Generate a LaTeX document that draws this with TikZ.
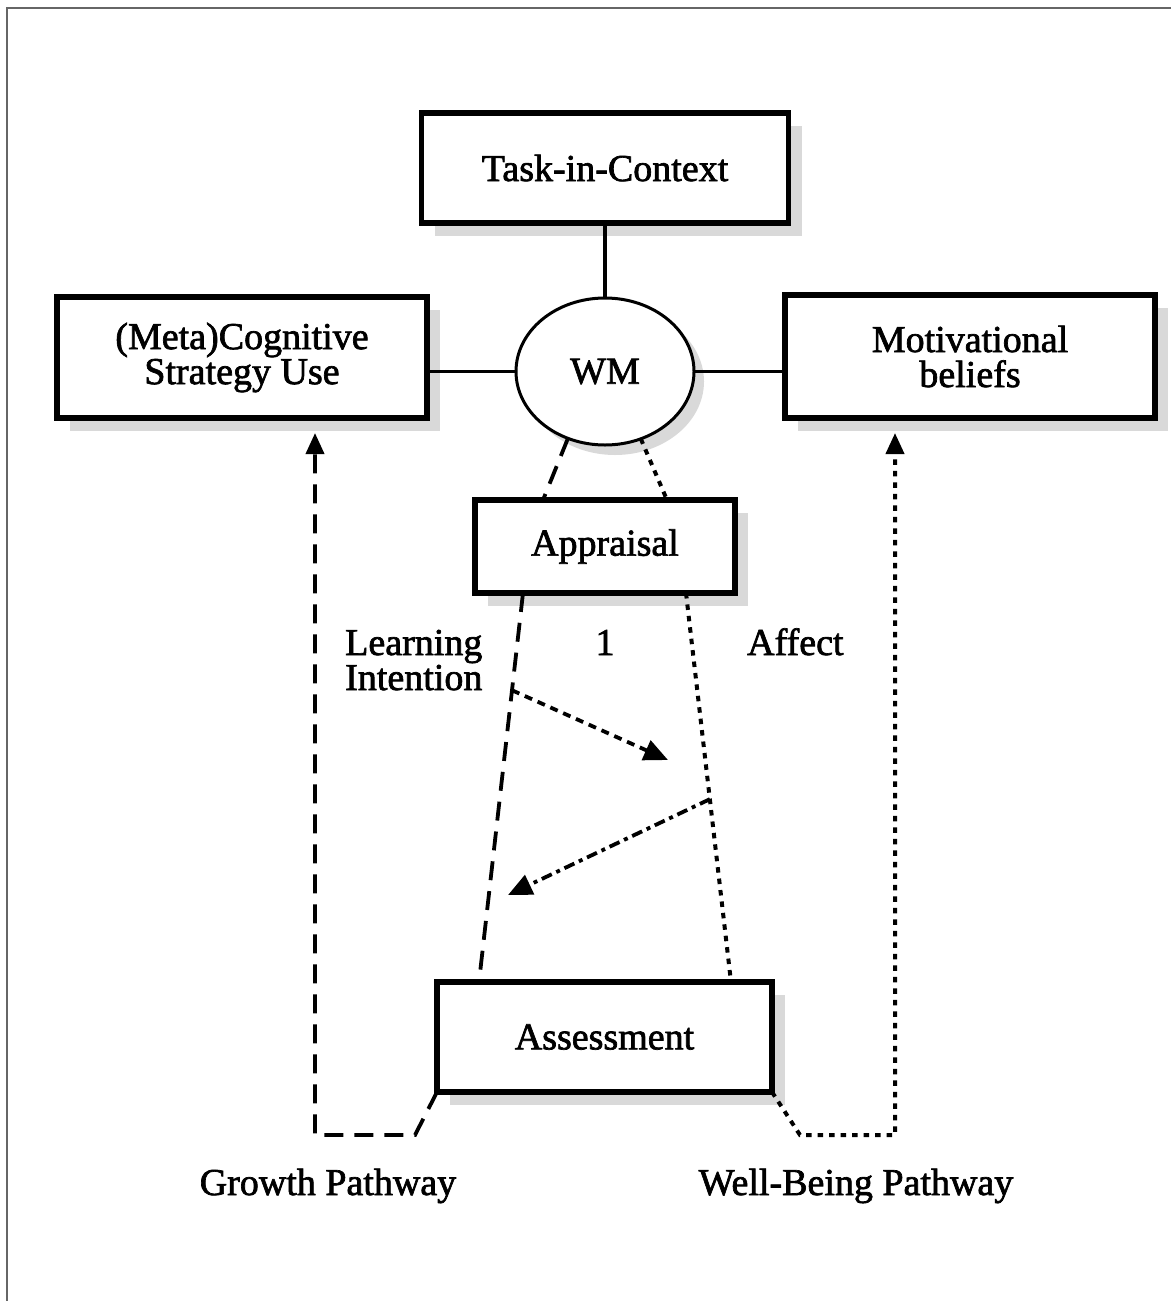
\documentclass[tikz,border=0pt]{standalone}
\usepackage{fontspec}
\newfontfamily\figfont{Liberation Serif}[BoldFont={Liberation Serif}, BoldFeatures={FakeBold=1.8}]
\usetikzlibrary{arrows.meta,shadows,calc,shapes.geometric}
\newcommand\lblfont{\figfont\bfseries\fontsize{38}{35}\selectfont}
\begin{document}
\begin{tikzpicture}[x=1pt,y=-1pt,
  boxshadow/.style={drop shadow={shadow xshift=13pt, shadow yshift=-13pt, fill=black!15, opacity=1}},
  box/.style={draw, line width=5.5pt, fill=white, inner sep=0pt, outer sep=0pt,
    font=\lblfont, align=center, boxshadow},
  wmnode/.style={ellipse, draw, line width=3pt, fill=white, inner sep=0pt, outer sep=0pt,
    font=\lblfont, drop shadow={shadow xshift=10pt, shadow yshift=-10pt, fill=black!15, opacity=1}},
  lbl/.style={font=\lblfont, inner sep=0pt},
  conn/.style={line width=3.8pt},
  dashline/.style={line width=3.8pt, dash pattern=on 19pt off 11pt},
  dotline/.style={line width=4pt, dash pattern=on 5.5pt off 6pt},
  tip/.style={-{Triangle[length=24pt,width=21pt]}},
]
\useasboundingbox (0,0) rectangle (1171,1301);
% frame
\draw[black!60, line width=2pt] (7,1301) -- (7,8) -- (1171,8);

% boxes
\node[box, minimum width=367pt, minimum height=110pt] (task) at (605,168) {Task-in-Context};
\node[box, minimum width=370pt, minimum height=121pt] (meta) at (242,357.5) {(Meta)Cognitive\\Strategy Use};
\node[box, minimum width=370pt, minimum height=123pt] (motiv) at (970,356.5) {Motivational\\beliefs};
\node[wmnode, minimum width=178pt, minimum height=147pt] (wm) at (605,371.5) {WM};
\node[box, minimum width=260pt, minimum height=93pt] (appr) at (605,546.5) {Appraisal};
\node[box, minimum width=335pt, minimum height=110pt] (assess) at (604.5,1037) {Assessment};

% solid links to working memory
\draw[conn] (task.south) -- (wm.north);
\draw[conn] (wm.west) -- (wm.west -| meta.east);
\draw[conn] (wm.east) -- (wm.east -| motiv.west);

% working memory to appraisal
\draw[dashline] (wm.241) -- ($(appr.north west)+(68,0)$);
\draw[dotline] (wm.298) -- ($(appr.north east)+(-68,0)$);

% appraisal to assessment
\coordinate (la) at ($(appr.south west)+(48,0)$);
\coordinate (lb) at ($(assess.north west)+(42,0)$);
\coordinate (ra) at ($(appr.south east)+(-49,0)$);
\coordinate (rb) at ($(assess.north east)+(-41,0)$);
\draw[dashline] (la) -- (lb);
\draw[dotline] (ra) -- (rb);

% cross arrows
\coordinate (s1) at ($(la)!0.25!(lb)$);
\coordinate (t1) at (668,760);
\coordinate (s2) at ($(ra)!0.53!(rb)$);
\coordinate (t2) at (508,895);
\draw[line width=3.8pt, dash pattern=on 8pt off 6pt, tip] (s1) -- (t1);
\draw[line width=3.8pt, dash pattern=on 11pt off 5pt on 4pt off 5pt, tip] (s2) -- (t2);

% pathways
\coordinate (g1) at (415,1135);
\coordinate (g2) at (315,1135);
\coordinate (gtop) at (315,433);
\draw[dashline, -{Triangle[length=21pt,width=18pt]}] (assess.south west) -- (g1) -- (g2) -- (gtop);
\coordinate (w1) at (800,1135);
\coordinate (w2) at (895,1135);
\coordinate (wtop) at (895,433);
\draw[dotline, -{Triangle[length=21pt,width=18pt]}] (assess.south east) -- (w1) -- (w2) -- (wtop);

% labels
\node[lbl, anchor=base west] (learn) at (345,655) {Learning};
\node[lbl, anchor=base west] (intent) at (345,690) {Intention};
\node[lbl, anchor=base] (one) at (605,655) {1};
\node[lbl, anchor=base west] (affect) at (747,655) {Affect};
\node[lbl, anchor=base] (growth) at (328,1195) {Growth Pathway};
\node[lbl, anchor=base] (well) at (856,1195) {Well-Being Pathway};
\end{tikzpicture}
\end{document}
